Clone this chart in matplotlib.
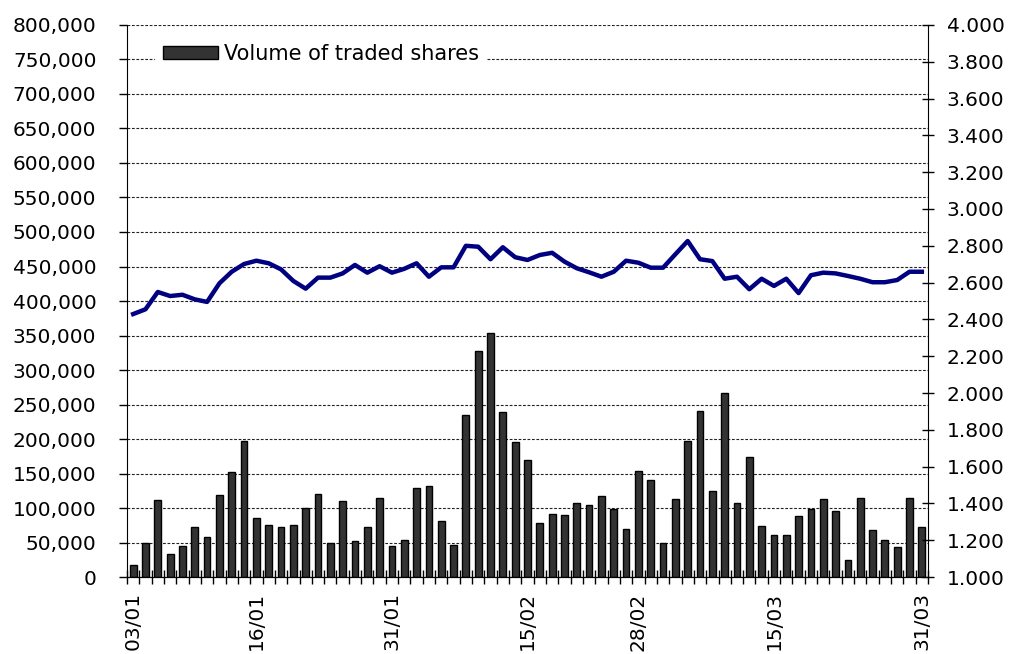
import matplotlib.pyplot as plt
import numpy as np
from matplotlib.ticker import FuncFormatter

# trading volume (shares) per session
volume = [18000, 50000, 111000, 34000, 45000, 73000, 58000, 119000, 152000, 197000,
          86000, 76000, 73000, 75000, 100000, 121000, 50000, 110000, 52000, 73000,
          115000, 45000, 54000, 129000, 132000, 81000, 46000, 235000, 328000, 354000,
          239000, 196000, 169000, 78000, 92000, 90000, 107000, 105000, 118000, 99000,
          70000, 154000, 141000, 50000, 113000, 197000, 241000, 124000, 267000, 107000,
          174000, 74000, 61000, 61000, 89000, 99000, 113000, 96000, 25000, 115000,
          68000, 53000, 44000, 115000, 72000]

# closing price (right axis)
price = [2.429, 2.455, 2.549, 2.527, 2.534, 2.509, 2.495, 2.596, 2.659, 2.701,
         2.719, 2.705, 2.672, 2.609, 2.567, 2.627, 2.627, 2.650, 2.696, 2.654,
         2.689, 2.654, 2.675, 2.705, 2.632, 2.683, 2.683, 2.800, 2.795, 2.727,
         2.792, 2.738, 2.723, 2.750, 2.762, 2.714, 2.678, 2.656, 2.632, 2.659,
         2.719, 2.708, 2.681, 2.681, 2.754, 2.826, 2.727, 2.717, 2.621, 2.632,
         2.564, 2.621, 2.582, 2.621, 2.543, 2.640, 2.654, 2.650, 2.636, 2.621,
         2.602, 2.602, 2.614, 2.659, 2.659]

label_pos = [0, 10, 21, 32, 41, 52, 64]
date_labels = ['03/01', '16/01', '31/01', '15/02', '28/02', '15/03', '31/03']

x = np.arange(len(volume))

fig = plt.figure(figsize=(10.11, 6.54), dpi=100)
ax = fig.add_axes([0.1256, 0.1177, 0.7923, 0.8441])

ax.bar(x, volume, width=0.55, color='#333333', edgecolor='black', linewidth=1,
       label='Volume of traded shares', zorder=2)
ax.set_xlim(-0.5, len(volume) - 0.5)
ax.set_ylim(0, 800000)
ax.set_yticks(np.arange(0, 800001, 50000))
ax.yaxis.set_major_formatter(FuncFormatter(lambda v, p: f'{int(v):,}'))
ax.yaxis.grid(True, color='#222222', linestyle=(0, (2.5, 1.5)), linewidth=0.8)
ax.set_axisbelow(True)

ax.set_xticks(label_pos)
ax.set_xticklabels(date_labels, rotation=90)
ax.set_xticks(np.arange(-0.5, len(volume), 1), minor=True)
ax.tick_params(axis='x', which='major', length=0, pad=11, labelsize=14.5)
ax.tick_params(axis='x', which='minor', direction='inout', length=10, width=1)
ax.tick_params(axis='y', direction='out', length=6, width=1, pad=16, labelsize=14.5)

for s in ['top', 'right']:
    ax.spines[s].set_visible(False)

ax2 = ax.twinx()
ax2.plot(x, price, color='#000080', linewidth=3.2, zorder=3)
ax2.set_ylim(1.0, 4.0)
ax2.set_yticks(np.arange(1.0, 4.001, 0.2))
ax2.yaxis.set_major_formatter(FuncFormatter(lambda v, p: f'{v:.3f}'))
ax2.tick_params(axis='y', direction='inout', length=9, width=1, pad=9, labelsize=14.5)
ax2.spines['top'].set_visible(False)
ax2.spines['left'].set_visible(False)

leg = ax.legend(loc='upper left', bbox_to_anchor=(0.022, 1.0), fontsize=15,
                frameon=True, edgecolor='none', framealpha=1, fancybox=False,
                handlelength=2.6, handleheight=0.55, handletextpad=0.3,
                borderpad=0.4)

fig.savefig('out.png', dpi=100)
